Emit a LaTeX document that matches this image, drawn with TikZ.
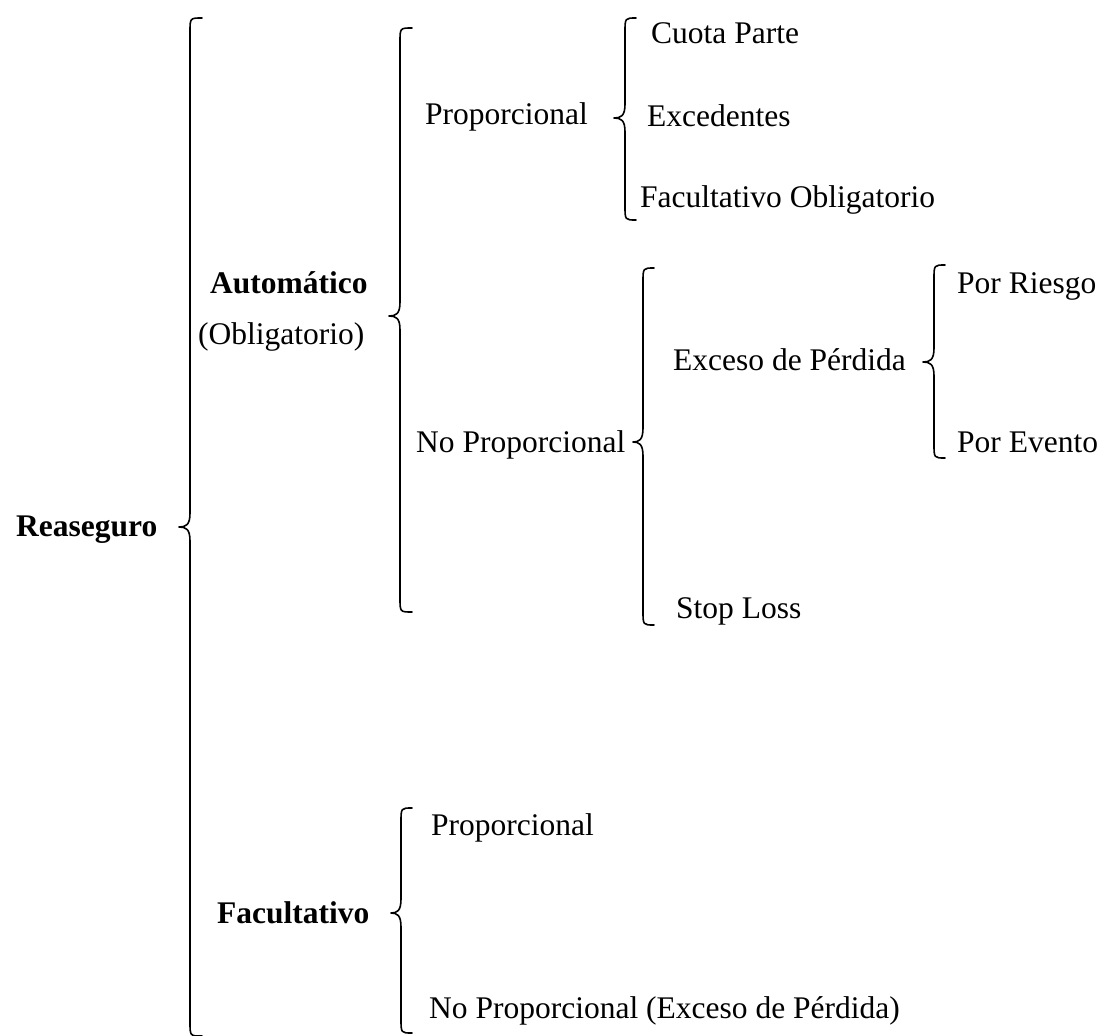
\documentclass[tikz,border=0pt]{standalone}
\usepackage{fontspec}
\setmainfont{Liberation Serif}
\tikzset{
  lbl/.style={anchor=base west, inner sep=0pt, font=\fontsize{31.5}{36}\selectfont},
  blbl/.style={lbl, font=\fontsize{31.5}{36}\selectfont\bfseries},
  brc/.style={line width=1.6pt, line cap=round, line join=round}
}
% \drawbrace{x end}{x spine}{x tip}{y top}{y mid}{y bottom}
\newcommand\drawbrace[6]{%
  \draw[brc] (#1,#4) .. controls (#2,#4) .. (#2,#4+14)
    -- (#2,#5-14) .. controls (#2,#5-2) and (#2-4,#5) .. (#3,#5)
    .. controls (#2-4,#5) and (#2,#5+2) .. (#2,#5+14)
    -- (#2,#6-14) .. controls (#2,#6) .. (#1,#6);}
\begin{document}
\begin{tikzpicture}[x=1pt,y=-1pt]
\useasboundingbox (0,0) rectangle (1103,1036);
% labels
\node[blbl] (rea) at (16,536) {Reaseguro};
\node[blbl] (aut) at (210,293) {Automático};
\node[lbl] (obl) at (198,344) {(Obligatorio)};
\node[lbl] (pro) at (425,124) {Proporcional};
\node[lbl] (cuo) at (651,43) {Cuota Parte};
\node[lbl] (exc) at (647,126) {Excedentes};
\node[lbl] (fob) at (640,207) {Facultativo Obligatorio};
\node[lbl] (npr) at (416,452) {No Proporcional};
\node[lbl] (exp) at (673,370) {Exceso de Pérdida};
\node[lbl] (pri) at (957,293) {Por Riesgo};
\node[lbl] (pev) at (957,452) {Por Evento};
\node[lbl] (stl) at (676,618) {Stop Loss};
\node[blbl] (fac) at (217,923) {Facultativo};
\node[lbl] (fpr) at (431,835) {Proporcional};
\node[lbl] (fnp) at (429,1018) {No Proporcional (Exceso de Pérdida)};
% braces
\drawbrace{202}{190}{179}{18}{527}{1036}
\drawbrace{412}{400}{389}{28}{316}{612}
\drawbrace{636}{625}{614}{18}{118}{220}
\drawbrace{654}{643}{633}{268}{442}{625}
\drawbrace{945}{934}{923}{265}{362}{458}
\drawbrace{412}{401}{391}{808}{913}{1033}
\end{tikzpicture}
\end{document}
